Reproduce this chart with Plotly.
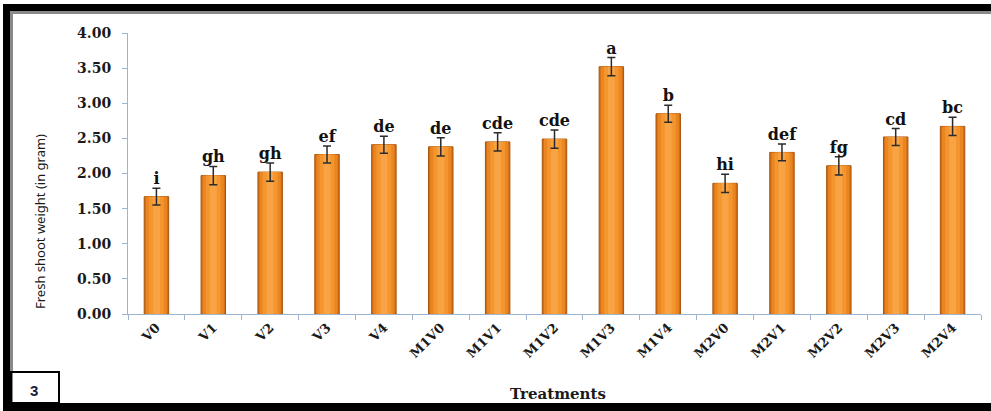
import plotly.graph_objects as go

treatments = ["V0", "V1", "V2", "V3", "V4", "M1V0", "M1V1", "M1V2", "M1V3", "M1V4",
              "M2V0", "M2V1", "M2V2", "M2V3", "M2V4"]
fresh_weight = [1.67, 1.97, 2.02, 2.27, 2.41, 2.38, 2.45, 2.49, 3.52, 2.85,
                1.86, 2.30, 2.11, 2.52, 2.67]
std_error = [0.12, 0.13, 0.13, 0.12, 0.12, 0.13, 0.13, 0.13, 0.13, 0.12,
             0.13, 0.12, 0.13, 0.12, 0.13]
letters = ["i", "gh", "gh", "ef", "de", "de", "cde", "cde", "a", "b",
           "hi", "def", "fg", "cd", "bc"]
y_ticks = [0.0, 0.5, 1.0, 1.5, 2.0, 2.5, 3.0, 3.5, 4.0]

W, H = 991, 411
L, R, T, B = 128, 10, 33, 97
PW, PH = W - L - R, H - T - B


def px(x):
    return (x - L) / PW


def py(y):
    return (H - B - y) / PH


fig = go.Figure()

# cylinder-like shading: layered bars of decreasing width
layers = [(0.43, "#D36E16", "#A9540B"), (0.37, "#EA8622", None),
          (0.26, "#F4952E", None), (0.12, "#F9A444", None)]
for w, c, lc in layers:
    fig.add_trace(go.Bar(
        x=treatments, y=fresh_weight, width=w,
        marker=dict(color=c, line=dict(color=lc or c, width=1 if lc else 0)),
        hoverinfo="skip", showlegend=False))

fig.add_trace(go.Scatter(
    x=treatments, y=fresh_weight, mode="markers",
    marker=dict(size=1, color="rgba(0,0,0,0)"),
    error_y=dict(type="data", array=std_error, visible=True,
                 color="#2b2b2b", thickness=1.5, width=4),
    showlegend=False, hoverinfo="skip"))

fig.add_trace(go.Scatter(
    x=treatments, y=[v + e for v, e in zip(fresh_weight, std_error)],
    mode="text", text=letters, textposition="top center",
    textfont=dict(family="DejaVu Serif", size=16, color="#111111", weight="bold"),
    showlegend=False, hoverinfo="skip"))

fig.update_layout(
    width=W, height=H, margin=dict(l=L, r=R, t=T, b=B, autoexpand=False),
    paper_bgcolor="white", plot_bgcolor="white",
    barmode="overlay",
    font=dict(family="DejaVu Serif", color="#1a1a1a"),
)

fig.update_xaxes(
    type="category", range=[-0.5, len(treatments) - 0.5],
    showgrid=False, showline=True, linecolor="#9DB3CF", linewidth=1,
    ticks="outside", tickson="boundaries", ticklen=5, tickcolor="#9DB3CF",
    tickangle=-45, automargin=False,
    tickfont=dict(family="DejaVu Serif", size=13, color="#1a1a1a", weight="bold"),
)
fig.update_yaxes(
    range=[0, 4], tickvals=y_ticks, tickformat=".2f", showgrid=False, zeroline=False,
    showline=True, linecolor="#9DB3CF", linewidth=1, automargin=False,
    ticks="outside", ticklen=5, tickcolor="#9DB3CF", ticklabelstandoff=8,
    tickfont=dict(family="DejaVu Serif", size=14, color="#1a1a1a", weight="bold"),
)

annotations = [
    dict(text="Fresh shoot weight (in gram)", xref="paper", yref="paper",
         x=px(40), y=py(222), textangle=-90, showarrow=False,
         xanchor="center", yanchor="middle",
         font=dict(family="Noto Sans", size=13, color="#1a1a1a")),
    dict(text="<b>Treatments</b>", xref="paper", yref="paper",
         x=px(558), y=py(394), showarrow=False, xanchor="center", yanchor="middle",
         font=dict(family="DejaVu Serif", size=15, color="#1a1a1a")),
    dict(text="<b>3</b>", xref="paper", yref="paper",
         x=px(34), y=py(390), showarrow=False, xanchor="center", yanchor="middle",
         font=dict(family="Liberation Sans", size=15, color="#1a1a3a")),
]
fig.update_layout(annotations=annotations)

P = dict(xref="paper", yref="paper", line=dict(width=0))
shapes = [
    # top frame
    dict(type="rect", x0=px(3), x1=px(W + 5), y0=py(4), y1=py(11), fillcolor="black", **P),
    dict(type="rect", x0=px(10), x1=px(W + 5), y0=py(11), y1=py(14), fillcolor="#8a8a8a", **P),
    # left frame
    dict(type="rect", x0=px(3), x1=px(10), y0=py(4), y1=py(H + 2), fillcolor="black", **P),
    dict(type="rect", x0=px(10), x1=px(13), y0=py(11), y1=py(403), fillcolor="#8a8a8a", **P),
    # bottom frame
    dict(type="rect", x0=px(3), x1=px(W + 5), y0=py(403), y1=py(H + 2), fillcolor="black", **P),
    # panel number box
    dict(type="rect", x0=px(11), x1=px(59), y0=py(372), y1=py(403),
         fillcolor="rgba(0,0,0,0)", xref="paper", yref="paper",
         line=dict(color="black", width=2)),
]
fig.update_layout(shapes=shapes)

fig.write_html("out.html", config={"displayModeBar": False},
               post_script="document.body.style.margin='0';document.body.style.overflow='hidden';")
